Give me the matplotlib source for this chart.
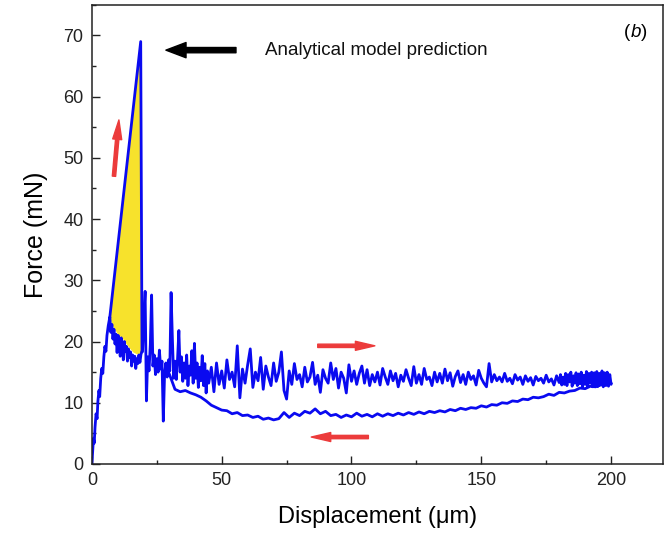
import numpy as np
import matplotlib
matplotlib.use("Agg")
import matplotlib.pyplot as plt
from matplotlib.ticker import MultipleLocator

plt.rcParams["font.family"] = ["Liberation Sans", "DejaVu Sans"]

# ── Measured curve: initial loading (0 → ~19 µm) ───────────────────────────
load_x = [0.0, 0.3, 0.6, 0.9, 1.2, 1.6, 2.0, 2.3, 2.7, 3.0, 3.4, 3.8, 4.2,
          4.6, 5.0, 5.4, 5.8, 6.3, 6.9, 7.3, 7.7, 8.1, 8.5, 8.9, 9.3, 9.7,
          10.1, 10.5, 10.9, 11.3, 11.7, 12.1, 12.5, 12.9, 13.3, 13.7, 14.1,
          14.5, 14.9, 15.3, 15.7, 16.1, 16.5, 16.9, 17.3, 17.7, 18.1, 18.5,
          18.9, 19.3]
load_y = [0.0, 2.0, 4.2, 3.4, 6.0, 8.2, 7.4, 10.2, 12.0, 11.0, 14.0, 15.6,
          14.8, 17.5, 19.2, 18.4, 21.0, 22.6, 24.0, 21.5, 22.8, 20.4, 22.0,
          19.6, 21.2, 18.2, 21.0, 20.2, 17.6, 20.6, 19.5, 17.0, 20.0, 18.4,
          19.2, 16.8, 18.8, 17.4, 18.3, 16.0, 17.8, 16.8, 17.6, 15.6, 17.2,
          16.4, 17.8, 16.6, 17.9, 18.4]

# ── Forward sliding, spiky part (19.5 → 45 µm, every 0.5 µm) ───────────────
fwd1_start, fwd1_step = 19.5, 0.5
fwd1_y = [18.4, 24.0, 28.2, 10.3, 17.5, 15.2, 19.5, 27.6, 16.0, 17.8,
          14.6, 17.2, 15.0, 18.6, 15.5, 16.8, 7.0, 14.8, 16.5, 14.2,
          17.0, 15.2, 28.0, 20.5, 14.0, 16.8, 13.8, 17.2, 21.8, 15.0,
          17.5, 13.5, 16.5, 14.0, 17.8, 12.8, 16.0, 14.5, 18.5, 13.2,
          19.7, 14.0, 16.5, 12.5, 15.8, 13.6, 17.7, 12.8, 16.4, 11.6,
          15.2, 13.2]

# ── Forward sliding, steady part (46 → 179 µm, every 1 µm) ─────────────────
fwd2_start, fwd2_step = 46.0, 1.0
fwd2_y = [15.8, 11.8, 16.5, 13.0, 15.2, 12.4, 17.0, 13.8, 15.0, 12.6,
          19.3, 10.8, 15.5, 13.2, 16.2, 18.8, 12.5, 15.0, 13.6, 17.4,
          12.2, 16.0, 14.2, 12.8, 16.5, 13.5, 15.0, 18.3, 12.0, 10.6,
          15.2, 13.0, 16.4, 13.8, 14.6, 12.6, 15.8, 13.4, 14.2, 16.6,
          13.0, 14.5, 11.7, 15.4, 14.0, 13.2, 16.5, 13.8, 15.6, 12.4,
          15.0, 14.0, 11.6, 16.2, 13.5, 15.2, 13.0, 14.8, 16.0, 13.2,
          15.4, 12.8, 14.6, 13.4, 15.0, 12.9, 15.6, 14.2, 13.0, 15.2,
          13.6, 14.8, 12.6, 14.5, 13.5, 15.4, 14.0, 12.8, 15.9, 13.2,
          14.6, 13.0, 15.6, 13.8, 14.2, 12.8, 15.0, 13.4, 14.8, 13.2,
          15.5, 13.6, 14.9, 12.7, 14.3, 15.2, 13.3, 14.6, 13.0, 15.0,
          13.8, 14.4, 12.9, 15.3, 14.0, 13.2, 12.6, 16.4, 13.4, 14.6,
          13.6, 14.2, 13.4, 14.8, 13.5, 14.0, 13.1, 14.6, 13.7, 14.2,
          13.0, 14.4, 13.5, 14.1, 12.9, 14.3, 13.6, 14.0, 13.2, 14.5,
          13.4, 13.9, 12.9, 14.4]

# ── Forward sliding, end (180 → 200 µm, every 0.5 µm) ──────────────────────
fwd3_start, fwd3_step = 180.0, 0.5
fwd3_y = [13.3, 14.6, 12.9, 14.2, 13.0, 14.8, 12.8, 14.6, 13.4, 15.0,
          12.7, 14.4, 13.2, 14.9, 12.8, 14.7, 13.1, 15.0, 12.6, 14.5,
          13.0, 15.1, 12.7, 14.8, 13.2, 15.0, 12.6, 14.9, 12.9, 15.1,
          12.7, 14.8, 13.0, 15.2, 12.6, 14.9, 12.8, 15.0, 12.7, 14.6,
          13.0]

# ── Return path (200 → 29 µm) ──────────────────────────────────────────────
back_x = [200, 198, 196, 194, 192, 190, 188, 186, 184, 182, 180, 178, 176,
          174, 172, 170, 168, 166, 164, 162, 160, 158, 156, 154, 152, 150,
          148, 146, 144, 142, 140, 138, 136, 134, 132, 130, 128, 126, 124,
          122, 120, 118, 116, 114, 112, 110, 108, 106, 104, 102, 100, 98,
          96, 94, 92, 90, 88, 86, 84, 82, 80, 78, 76, 74, 72, 70, 68, 66,
          64, 62, 60, 58, 56, 54, 52, 50, 48, 46, 44, 42, 40, 38, 36, 34,
          32, 30, 29]
back_y = [13.2, 13.0, 12.9, 12.6, 12.7, 12.3, 12.4, 12.0, 11.9, 11.6, 11.7,
          11.2, 11.4, 11.0, 10.8, 10.9, 10.5, 10.6, 10.2, 10.3, 9.9, 10.0,
          9.6, 9.7, 9.3, 9.5, 9.1, 9.2, 8.9, 9.1, 8.7, 8.9, 8.5, 8.7, 8.4,
          8.6, 8.2, 8.5, 8.1, 8.4, 8.0, 8.3, 7.9, 8.2, 7.8, 8.2, 7.7, 8.1,
          7.8, 8.3, 7.7, 8.0, 7.6, 8.1, 7.9, 8.6, 8.2, 9.0, 8.3, 8.6, 7.9,
          8.3, 7.6, 8.4, 7.4, 7.2, 7.5, 7.3, 7.8, 7.6, 8.0, 7.9, 8.4, 8.2,
          8.7, 8.8, 9.2, 9.6, 10.3, 10.9, 11.3, 11.6, 12.0, 11.8, 12.2,
          14.5, 15.5]

# ── Analytical model prediction and the area it encloses ───────────────────
model_x = [6.9, 18.8, 19.3]
model_y = [24.0, 69.0, 18.4]
# upper envelope of the measured loading curve (lower edge of the yellow area)
env_x = [6.9, 8.0, 10.0, 12.0, 14.0, 16.0, 18.0, 19.3]
env_y = [24.0, 22.6, 21.2, 20.4, 19.2, 18.2, 17.8, 18.4]


def series(start, step, ys):
    return start + step * np.arange(len(ys))


meas_x = np.concatenate([load_x,
                         series(fwd1_start, fwd1_step, fwd1_y),
                         series(fwd2_start, fwd2_step, fwd2_y),
                         series(fwd3_start, fwd3_step, fwd3_y),
                         back_x])
meas_y = np.concatenate([load_y, fwd1_y, fwd2_y, fwd3_y, back_y])

fig = plt.figure(figsize=(6.66, 5.37), dpi=100)
ax = fig.add_axes([0.138, 0.136, 0.8575, 0.855])

blue = "#0a0af0"
poly_x = model_x + env_x[::-1]
poly_y = model_y + env_y[::-1]
ax.fill(poly_x, poly_y, color="#f7e22c", lw=0, zorder=1)
ax.plot(model_x, model_y, color=blue, lw=2.0, zorder=3)
ax.plot(meas_x, meas_y, color=blue, lw=2.0, zorder=2)

# arrows
black_kw = dict(arrowstyle="simple,head_width=1.1,head_length=1.45,tail_width=0.38",
                color="black", mutation_scale=10, shrinkA=0, shrinkB=0)
red_kw = dict(arrowstyle="simple,head_width=0.65,head_length=1.4,tail_width=0.24",
              color="#ec3b3b", mutation_scale=10, shrinkA=0, shrinkB=0)
ax.annotate("", xy=(28.5, 67.6), xytext=(55.5, 67.6), arrowprops=black_kw)
ax.annotate("", xy=(10.4, 56.2), xytext=(8.5, 47.0), arrowprops=red_kw)
ax.annotate("", xy=(109.0, 19.3), xytext=(87.0, 19.3), arrowprops=red_kw)
ax.annotate("", xy=(84.5, 4.4), xytext=(106.5, 4.4), arrowprops=red_kw)

ax.text(66.5, 67.6, "Analytical model prediction", fontsize=13.5,
        va="center", ha="left", color="#111111")
ax.text(207.5, 70.4, "(", fontsize=13.5, va="center", ha="right")
ax.text(207.6, 70.4, "b", fontsize=13.5, va="center", ha="left", style="italic")
ax.text(211.6, 70.4, ")", fontsize=13.5, va="center", ha="left")

ax.set_xlim(0, 220)
ax.set_ylim(0, 75)
ax.xaxis.set_major_locator(MultipleLocator(50))
ax.xaxis.set_minor_locator(MultipleLocator(25))
ax.yaxis.set_major_locator(MultipleLocator(10))
ax.yaxis.set_minor_locator(MultipleLocator(5))
ax.tick_params(which="both", direction="in", top=False, right=False,
               labelsize=13, width=1.0, pad=6, colors="#222222")
ax.tick_params(which="major", length=5.5)
ax.tick_params(which="minor", length=3)
for s in ax.spines.values():
    s.set_linewidth(1.1)
    s.set_color("#222222")

ax.set_xlabel("Displacement (\u03bcm)", fontsize=17, labelpad=12)
ax.set_ylabel("Force (mN)", fontsize=18, labelpad=11)

fig.savefig("out.png", dpi=100)
